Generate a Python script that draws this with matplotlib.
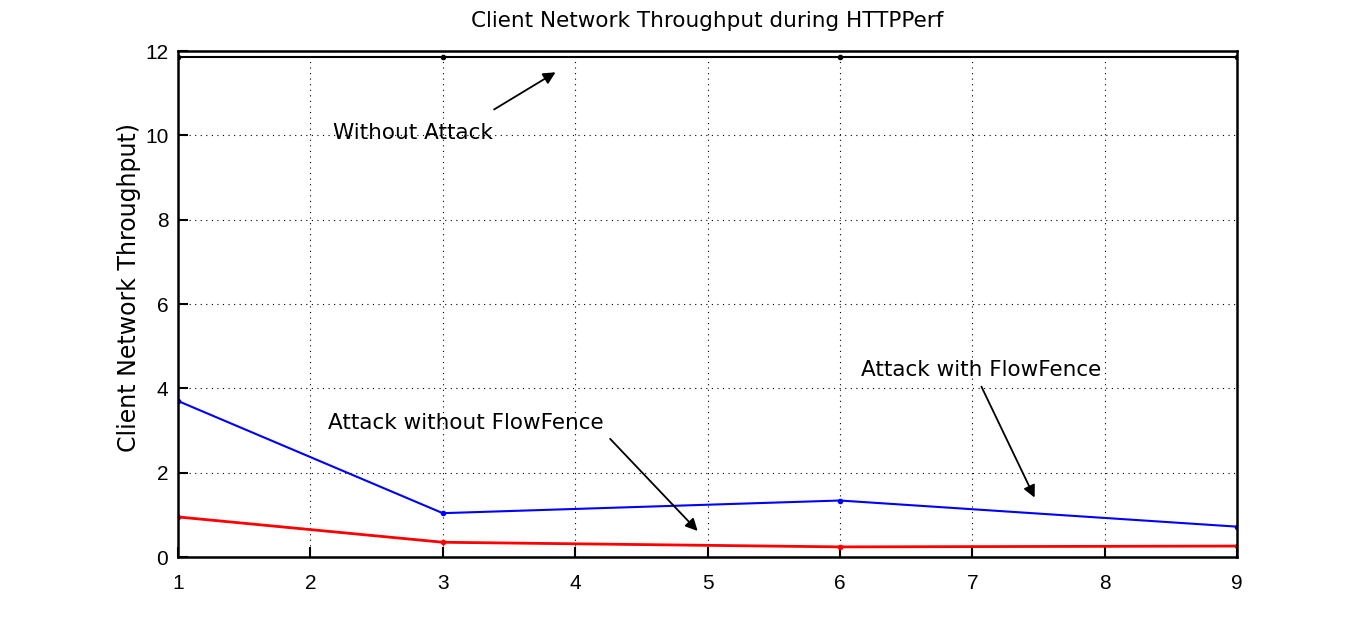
import matplotlib
matplotlib.use('Agg')
from matplotlib import pyplot as plt

plt.rcParams['font.family'] = ['DejaVu Sans']

x = [1, 3, 6, 9]
without_attack = [11.85, 11.85, 11.85, 11.85]
with_flowfence = [3.70, 1.04, 1.34, 0.72]
without_flowfence = [0.95, 0.35, 0.24, 0.26]

fig = plt.figure(figsize=(13.66, 6.26), dpi=100)
ax = fig.add_axes([0.1303, 0.1102, 0.7753, 0.8083])

ax.plot(x, without_attack, color='black', lw=1.5, marker='.', ms=6)
ax.plot(x, with_flowfence, color='blue', lw=1.5, marker='.', ms=6)
ax.plot(x, without_flowfence, color='red', lw=2, marker='.', ms=6)

ax.set_xlim(1, 9)
ax.set_ylim(0, 12)
ax.set_xticks(range(1, 10))
ax.set_yticks(range(0, 13, 2))
ax.grid(True, linestyle=(0, (1, 4)), color='black', lw=0.8)
ax.tick_params(direction='in', length=7, width=1.5, labelsize=15,
               labelfontfamily='Liberation Sans')
ax.tick_params(axis='x', pad=12)
ax.tick_params(axis='y', pad=7)
for s in ax.spines.values():
    s.set_linewidth(1.8)

ax.set_title('Client Network Throughput during HTTPPerf', fontsize=15.5, pad=17)
ax.set_ylabel('Client Network Throughput)', fontsize=17)
ax.yaxis.set_label_coords(-0.035, 0.533)

arrow = dict(arrowstyle='-|>', color='black', lw=1.3, mutation_scale=18)
ax.annotate('', xy=(3.87, 11.53), xytext=(3.37, 10.58), arrowprops=arrow)
ax.text(2.17, 10.05, 'Without Attack', fontsize=15.5, va='center')
ax.annotate('', xy=(4.94, 0.57), xytext=(4.25, 2.85), arrowprops=arrow)
ax.text(2.13, 3.18, 'Attack without FlowFence', fontsize=15.5, va='center')
ax.annotate('', xy=(7.48, 1.35), xytext=(7.06, 4.10), arrowprops=arrow)
ax.text(6.16, 4.43, 'Attack with FlowFence', fontsize=15.5, va='center')

fig.savefig('out.png', dpi=100)
